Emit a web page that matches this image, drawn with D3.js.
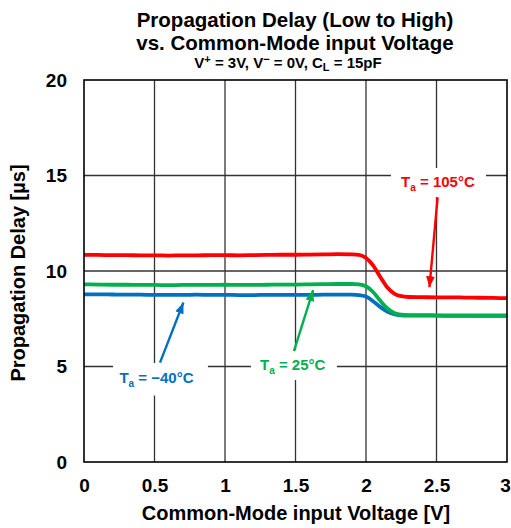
<!DOCTYPE html>
<html>
<head>
<meta charset="utf-8">
<script src="https://cdn.jsdelivr.net/npm/d3@7"></script>
<style>
  html, body { margin: 0; padding: 0; background: #fff; }
  svg { display: block; }
  text { font-family: "Liberation Sans", Arial, sans-serif; font-weight: bold; }
</style>
</head>
<body>
<svg id="chart" width="511" height="528"></svg>
<script>
// Common-mode input voltage sweep [V]
const voltage = [0, 0.1, 0.2, 0.3, 0.4, 0.5, 0.6, 0.7, 0.8, 0.9,
                 1.0, 1.1, 1.2, 1.3, 1.4, 1.5, 1.6, 1.7, 1.8, 1.9,
                 1.95, 2.0, 2.05, 2.1, 2.15, 2.2, 2.25, 2.3,
                 2.4, 2.5, 2.6, 2.7, 2.8, 2.9, 3.0];

// Propagation delay [µs] per ambient temperature
const delay105 = [10.84, 10.84, 10.83, 10.83, 10.82, 10.82, 10.81, 10.82, 10.82, 10.83,
                  10.83, 10.82, 10.83, 10.84, 10.85, 10.85, 10.86, 10.87, 10.88, 10.87,
                  10.85, 10.68, 10.30, 9.70, 9.15, 8.82, 8.68, 8.64,
                  8.63, 8.62, 8.62, 8.61, 8.60, 8.59, 8.58];
const delay25 = [9.30, 9.29, 9.28, 9.28, 9.27, 9.27, 9.26, 9.27, 9.27, 9.27,
                 9.28, 9.27, 9.27, 9.28, 9.29, 9.29, 9.30, 9.31, 9.32, 9.32,
                 9.30, 9.20, 8.90, 8.45, 8.05, 7.80, 7.71, 7.69,
                 7.69, 7.68, 7.68, 7.68, 7.67, 7.67, 7.67];
const delayMinus40 = [8.78, 8.78, 8.77, 8.76, 8.76, 8.75, 8.75, 8.75, 8.76, 8.75,
                      8.75, 8.74, 8.74, 8.75, 8.75, 8.75, 8.75, 8.76, 8.76, 8.76,
                      8.74, 8.66, 8.42, 8.12, 7.88, 7.74, 7.68, 7.66,
                      7.66, 7.66, 7.65, 7.65, 7.65, 7.65, 7.65];

const xTicks = [0, 0.5, 1, 1.5, 2, 2.5, 3];
const xTickLabels = ["0", "0.5", "1", "1.5", "2", "2.5", "3"];
const yTicks = [0, 5, 10, 15, 20];
const yTickLabels = ["0", "5", "10", "15", "20"];

const seriesNames = ["−40°C", "25°C", "105°C"];
const seriesColors = ["#0070C0", "#00B050", "#FF0000"];
const seriesValues = [delayMinus40, delay25, delay105];

const svg = d3.select("#chart");
const plotLeft = 84, plotRight = 507, plotTop = 80, plotBottom = 462;

const x = d3.scaleLinear().domain([0, 3]).range([plotLeft, plotRight]);
const y = d3.scaleLinear().domain([0, 20]).range([plotBottom, plotTop]);

// Titles
svg.append("text").attr("x", 295).attr("y", 27).attr("text-anchor", "middle")
  .attr("font-size", 20.5).text("Propagation Delay (Low to High)");
svg.append("text").attr("x", 295).attr("y", 50).attr("text-anchor", "middle")
  .attr("font-size", 20.5).text("vs. Common-Mode input Voltage");
const sub = svg.append("text").attr("x", 288).attr("y", 68).attr("text-anchor", "middle")
  .attr("font-size", 15);
sub.append("tspan").text("V");
sub.append("tspan").attr("dy", -5).attr("font-size", 11).text("+");
sub.append("tspan").attr("dy", 5).text(" = 3V, V");
sub.append("tspan").attr("dy", -5).attr("font-size", 11).text("−");
sub.append("tspan").attr("dy", 5).text(" = 0V, C");
sub.append("tspan").attr("dy", 3).attr("font-size", 11).text("L");
sub.append("tspan").attr("dy", -3).text(" = 15pF");

// Grid
const grid = svg.append("g").attr("stroke", "#333").attr("stroke-width", 1.3);
grid.selectAll("line.v").data(xTicks.slice(1, -1)).join("line").attr("class", "v")
  .attr("x1", d => x(d)).attr("x2", d => x(d)).attr("y1", plotTop).attr("y2", plotBottom);
grid.selectAll("line.h").data(yTicks.slice(1, -1)).join("line").attr("class", "h")
  .attr("x1", plotLeft).attr("x2", plotRight).attr("y1", d => y(d)).attr("y2", d => y(d));

// Axes with tick labels
const xAxis = svg.append("g").attr("transform", `translate(0,${plotBottom})`)
  .call(d3.axisBottom(x).tickValues(xTicks).tickSize(0).tickPadding(17)
    .tickFormat((d, i) => xTickLabels[i]));
xAxis.select(".domain").remove();
xAxis.selectAll("text").attr("font-size", 19).attr("fill", "#000")
  .attr("font-family", "Liberation Sans, Arial, sans-serif").attr("font-weight", "bold");
// keep the last label inside the canvas edge
xAxis.selectAll("text").filter(d => d === 3).attr("dx", -2);

const yAxis = svg.append("g").attr("transform", `translate(${plotLeft},0)`)
  .call(d3.axisLeft(y).tickValues(yTicks).tickSize(0).tickPadding(17)
    .tickFormat((d, i) => yTickLabels[i]));
yAxis.select(".domain").remove();
yAxis.selectAll("text").attr("font-size", 19).attr("fill", "#000")
  .attr("font-family", "Liberation Sans, Arial, sans-serif").attr("font-weight", "bold");

svg.append("text").attr("x", 296).attr("y", 520).attr("text-anchor", "middle")
  .attr("font-size", 20).text("Common-Mode input Voltage [V]");
svg.append("text").attr("transform", `translate(25,${(plotTop + plotBottom) / 2 + 2}) rotate(-90)`)
  .attr("text-anchor", "middle").attr("font-size", 20).text("Propagation Delay [µs]");

// Curves
const line = d3.line().x((d, i) => x(voltage[i])).y(d => y(d)).curve(d3.curveMonotoneX);
svg.append("g").selectAll("path").data(seriesValues).join("path")
  .attr("d", d => line(d)).attr("fill", "none")
  .attr("stroke", (d, i) => seriesColors[i]).attr("stroke-width", 3.8)
  .attr("stroke-linejoin", "round");

// Frame
svg.append("rect").attr("x", plotLeft).attr("y", plotTop).attr("width", plotRight - plotLeft)
  .attr("height", plotBottom - plotTop).attr("fill", "none").attr("stroke", "#000").attr("stroke-width", 1.6);

// Callouts: label box [x0, x1, yTop, yBottom], label anchor, arrow tail and tip, all in data units
const callouts = [
  { s: 0, box: [0.206, 0.879, 5.18, 3.48], text: [0.514, 4.16], from: [0.539, 5.2], to: [0.705, 8.35] },
  { s: 1, box: [1.184, 1.794, 5.86, 4.29], text: [1.48, 4.82], from: [1.489, 5.8], to: [1.625, 9.0] },
  { s: 2, box: [2.177, 2.851, 15.39, 13.87], text: [2.51, 14.38], from: [2.508, 13.85], to: [2.45, 9.15] }
];

const defs = svg.append("defs");
seriesColors.forEach((c, i) => {
  defs.append("marker").attr("id", "arrow" + i)
    .attr("viewBox", "0 0 10 8").attr("refX", 10).attr("refY", 4)
    .attr("markerUnits", "userSpaceOnUse").attr("markerWidth", 11).attr("markerHeight", 9)
    .attr("orient", "auto")
    .append("path").attr("d", "M0,0 L10,4 L0,8 Z").attr("fill", c);
});

const cg = svg.append("g");
callouts.forEach(c => {
  const col = seriesColors[c.s];
  cg.append("rect")
    .attr("x", x(c.box[0])).attr("y", y(c.box[2]))
    .attr("width", x(c.box[1]) - x(c.box[0])).attr("height", y(c.box[3]) - y(c.box[2]))
    .attr("fill", "#fff");
  const t = cg.append("text").attr("x", x(c.text[0])).attr("y", y(c.text[1]))
    .attr("text-anchor", "middle").attr("font-size", 15).attr("fill", col);
  t.append("tspan").text("T");
  t.append("tspan").attr("dy", 4).attr("font-size", 10).text("a");
  t.append("tspan").attr("dy", -4).text(" = " + seriesNames[c.s]);
  cg.append("line")
    .attr("x1", x(c.from[0])).attr("y1", y(c.from[1]))
    .attr("x2", x(c.to[0])).attr("y2", y(c.to[1]))
    .attr("stroke", col).attr("stroke-width", 2.4)
    .attr("marker-end", `url(#arrow${c.s})`);
});
</script>
</body>
</html>
